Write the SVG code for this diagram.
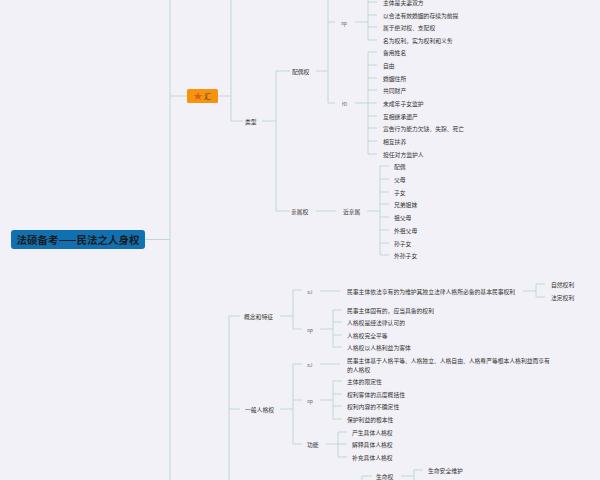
<svg xmlns="http://www.w3.org/2000/svg" width="600" height="480" viewBox="0 0 600 480">
<style>
.t{font-family:"Noto Sans CJK SC","Noto Sans",sans-serif;font-size:5.8px;fill:#333;dominant-baseline:central}
.s{font-family:"Noto Sans CJK SC","Noto Sans",sans-serif;font-size:5px;fill:#666;dominant-baseline:central}
.l{fill:none;stroke:#bcd9d2;stroke-width:1}
</style>
<rect width="600" height="480" fill="#f2f1f7"/>
<g id="connectors">
<path class="l" d="M145 239.5H170M170 0V480M170 96H187M218 96H231M231 0V121H243M262 121H276M276 71V211M276 71H290M276 211H290"/>
<path class="l" d="M316 71H327M328 -5V103M328 22H335M328 103H335M355 22H368M368 -5V40M368 2H377M368 15H377M368 27H377M368 40H377"/>
<path class="l" d="M355 103H368M368 52V154M368 52H377M368 65H377M368 78H377M368 90H377M368 116H377M368 128H377M368 141H377M368 154H377M368 103H377"/>
<path class="l" d="M316 211H336M367 211H380M380 166V255M380 166H389M380 179H389M380 192H389M380 204H389M380 217H389M380 230H389M380 243H389M380 255H389"/>
<path class="l" d="M229 316V480M229 316H240M229 409H240M280 316H293M293 290V329M293 290H302M293 329H302M320 291H340M523 291H536M536 284V297M536 284H545M536 297H545M320 329H333M333 310V347M333 310H342M333 322H342M333 335H342M333 347H342"/>
<path class="l" d="M280 409H293M293 364V444M293 364H302M293 400H302M293 444H302M320 364H340M320 400H333M333 381V419M333 381H342M333 394H342M333 406H342M333 419H342M326 444H338M338 432V457M338 432H347M338 444H347M338 457H347"/>
<path class="l" d="M362 476V480M362 476H372M401 476H414M414 470V480M414 470H423"/>
</g>
<g id="root"><rect x="11" y="230" width="134" height="19" rx="3" fill="#1170b0"/><text x="78" y="239.5" text-anchor="middle" font-family="Noto Sans CJK SC,sans-serif" font-size="10.5" font-weight="bold" fill="#1a1a1a" dominant-baseline="central">法硕备考——民法之人身权</text></g>
<g id="hui"><rect x="187" y="89" width="31" height="14" rx="1.5" fill="#f7940e"/><polygon points="198,92 199.2,95 202.3,95 199.8,97 200.8,100 198,98.2 195.2,100 196.2,97 193.7,95 196.8,95" fill="#e2592a"/><text x="204" y="96" class="t" style="font-size:7px">汇</text></g>
<g id="leixing"><text class="t" x="245" y="121">类型</text></g>
<g id="peiou"><text class="t" x="292" y="71">配偶权</text>
<text class="s" x="341" y="22">ap</text>
<text class="t" x="383" y="2">主体是夫妻双方</text><text class="t" x="383" y="15">以合法有效婚姻的存续为前提</text><text class="t" x="383" y="27">属于绝对权、支配权</text><text class="t" x="383" y="40">名为权利，实为权利和义务</text>
<text class="s" x="342" y="103">fD</text>
<text class="t" x="383" y="52">备用姓名</text><text class="t" x="383" y="65">自由</text><text class="t" x="383" y="78">婚姻住所</text><text class="t" x="383" y="90">共同财产</text><text class="t" x="383" y="103">未成年子女监护</text><text class="t" x="383" y="116">互相继承遗产</text><text class="t" x="383" y="128">宣告行为能力欠缺、失踪、死亡</text><text class="t" x="383" y="141">相互扶养</text><text class="t" x="383" y="154">担任对方监护人</text></g>
<g id="qinshu"><text class="t" x="291" y="211">亲属权</text><text class="t" x="343" y="211">近亲属</text>
<text class="t" x="394" y="166">配偶</text><text class="t" x="394" y="179">父母</text><text class="t" x="394" y="192">子女</text><text class="t" x="394" y="204">兄弟姐妹</text><text class="t" x="394" y="217">祖父母</text><text class="t" x="394" y="230">外祖父母</text><text class="t" x="394" y="243">孙子女</text><text class="t" x="394" y="255">外孙子女</text></g>
<g id="gainian"><text class="t" x="244" y="316">概念和特征</text>
<text class="s" x="307" y="291">aJ</text><text class="t" x="347" y="291">民事主体依法享有的为维护其独立法律人格所必备的基本民事权利</text>
<text class="t" x="551" y="284">自然权利</text><text class="t" x="551" y="297">法定权利</text>
<text class="s" x="307" y="329">ap</text>
<text class="t" x="347" y="310">民事主体固有的，应当具备的权利</text><text class="t" x="347" y="322">人格权是经法律认可的</text><text class="t" x="347" y="335">人格权完全平等</text><text class="t" x="347" y="347">人格权以人格利益为客体</text></g>
<g id="yiban"><text class="t" x="245" y="409">一般人格权</text>
<text class="s" x="307" y="364">aJ</text><text class="t" x="347" y="360">民事主体基于人格平等、人格独立、人格自由、人格尊严等根本人格利益而享有</text><text class="t" x="347" y="369">的人格权</text>
<text class="s" x="307" y="400">ap</text>
<text class="t" x="347" y="381">主体的限定性</text><text class="t" x="347" y="394">权利客体的高度概括性</text><text class="t" x="347" y="406">权利内容的不确定性</text><text class="t" x="347" y="419">保护利益的根本性</text>
<text class="t" x="307" y="444">功能</text>
<text class="t" x="352" y="432">产生具体人格权</text><text class="t" x="352" y="444">解释具体人格权</text><text class="t" x="352" y="457">补充具体人格权</text></g>
<g id="shengming"><text class="t" x="376" y="476">生命权</text><text class="t" x="428" y="470">生命安全维护</text></g>
</svg>
